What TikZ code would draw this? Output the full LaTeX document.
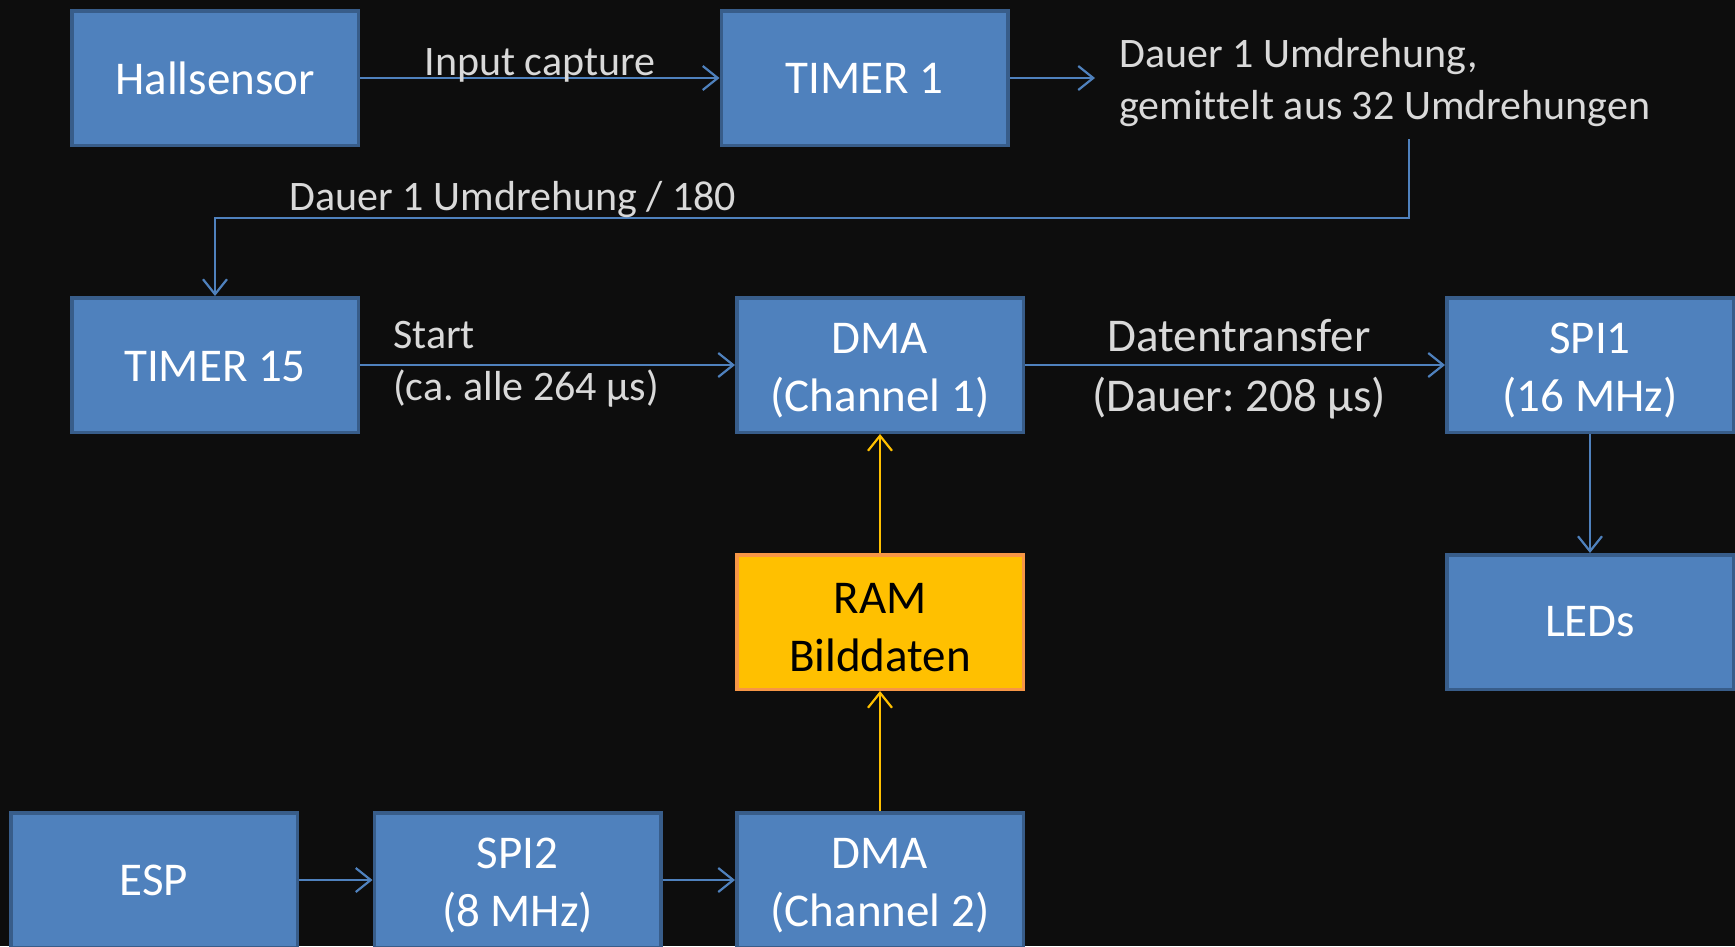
\documentclass[tikz,border=0pt]{standalone}
\usepackage{fontspec}
\setmainfont[RawFeature={-liga;-dlig}]{Carlito}
\usetikzlibrary{arrows.meta}
\definecolor{bg}{HTML}{0D0D0D}
\definecolor{boxfill}{HTML}{4F81BD}
\definecolor{boxline}{HTML}{385D8A}
\definecolor{ramfill}{HTML}{FFC000}
\definecolor{ramline}{HTML}{F79646}
\definecolor{labgray}{HTML}{D9D9D9}
\newcommand{\up}{\rule{0pt}{41pt}}
\begin{document}
\frenchspacing
\begin{tikzpicture}[x=1pt,y=-1pt,
 blk/.style={draw=boxline, fill=boxfill, line width=3.5pt, minimum width=286.5pt, minimum height=134.5pt, text=white, align=center, font=\fontsize{47}{57.5}\selectfont, inner sep=0pt},
 ram/.style={blk, draw=ramline, fill=ramfill, text=black},
 lab/.style={text=labgray, font=\fontsize{42}{52}\selectfont, inner sep=0pt},
 arr/.style={draw=boxfill, line width=2.2pt, -{Straight Barb[length=15pt,width=24pt]}},
 yarr/.style={arr, draw=ramfill}]
\fill[bg] (0,0) rectangle (1735,946);
\useasboundingbox (0,0) rectangle (1735,946);

\node[blk] (hall) at (215,78) {Hallsensor};
\node[blk] (t1) at (864.5,78) {TIMER 1};
\node[blk] (t15) at (215,365) {\rule{0pt}{33pt}TIMER 15};
\node[blk] (dma1) at (880,365) {\up DMA\\(Channel 1)};
\node[blk] (spi1) at (1590,365) {\up SPI1\\(16 MHz)};
\node[ram] (ram) at (880,622) {\up RAM\\Bilddaten};
\node[blk] (leds) at (1590,622) {LEDs};
\node[blk] (esp) at (154,880) {ESP};
\node[blk] (spi2) at (517.5,880) {\up SPI2\\(8 MHz)};
\node[blk] (dma2) at (880,880) {\up DMA\\(Channel 2)};

\node[lab, anchor=west, align=left, inner xsep=24pt] (dauer) at (1095,83) {Dauer 1 Umdrehung,\\gemittelt aus 32 Umdrehungen};

\draw[arr] (hall) -- (t1);
\node[lab, anchor=base] (lcap) at (540,75) {Input capture};
\draw[arr] (t1.east) -- (t1.east -| dauer.west);

\coordinate (c1) at (1409,139);
\coordinate (c2) at (1409,218);
\draw[arr] (c1) -- (c2) -| (t15.north);
\node[lab, anchor=base] (ldauer) at (513,210) {Dauer 1 Umdrehung / 180};

\draw[arr] (t15) -- (dma1);
\node[lab, anchor=west, align=left] (lstart) at (393,364) {Start\\(ca. alle 264 µs)};
\draw[arr] (dma1) -- (spi1);
\node[lab, font=\fontsize{47}{60.5}\selectfont, align=center] (ldt) at (1239,369) {Datentransfer\\(Dauer: 208 µs)};
\draw[arr] (spi1) -- (leds);
\draw[yarr] (dma2) -- (ram);
\draw[yarr] (ram) -- (dma1);
\draw[arr] (esp) -- (spi2);
\draw[arr] (spi2) -- (dma2);
\end{tikzpicture}
\end{document}
